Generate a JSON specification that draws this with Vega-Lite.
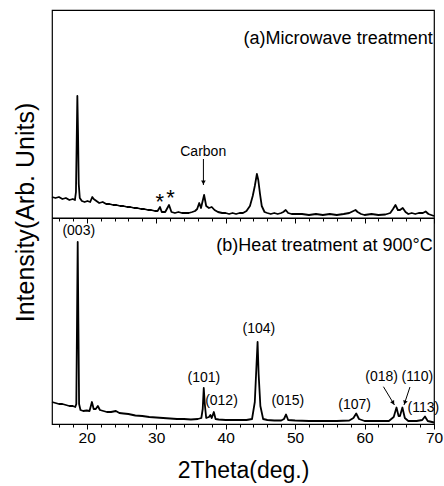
{
  "$schema": "https://vega.github.io/schema/vega-lite/v6.json",
  "width": 382,
  "height": 414,
  "autosize": "none",
  "padding": {"left": 52, "top": 10, "right": 10, "bottom": 62},
  "background": "white",
  "config": {
    "font": "Liberation Sans",
    "view": {"stroke": "#000", "strokeWidth": 1.2},
    "axis": {"grid": false, "labelColor": "#000", "titleColor": "#000", "tickColor": "#000", "domainColor": "#000", "titleFontWeight": "normal", "labelFont": "Liberation Sans", "titleFont": "Liberation Sans"},
    "axisY": {"labels": false, "ticks": false, "domain": false, "titleFontSize": 25, "titleX": -19, "titleY": 202, "titleBaseline": "alphabetic", "titleAlign": "center", "titleAngle": -90},
    "text": {"font": "Liberation Sans", "color": "#000"}
  },
  "resolve": {"scale": {"x": "shared", "y": "shared"}, "axis": {"x": "independent"}},
  "datasets": {
    "xrd": [
      {"sample": "a", "theta": 15.0, "v": 227}, {"sample": "a", "theta": 15.5, "v": 226}, {"sample": "a", "theta": 16.0, "v": 227}, {"sample": "a", "theta": 16.5, "v": 225}, {"sample": "a", "theta": 17.0, "v": 226}, {"sample": "a", "theta": 17.5, "v": 224}, {"sample": "a", "theta": 18.0, "v": 225}, {"sample": "a", "theta": 18.3, "v": 224}, {"sample": "a", "theta": 18.45, "v": 232}, {"sample": "a", "theta": 18.55, "v": 280}, {"sample": "a", "theta": 18.65, "v": 328}, {"sample": "a", "theta": 18.75, "v": 290}, {"sample": "a", "theta": 18.85, "v": 240}, {"sample": "a", "theta": 19.0, "v": 226}, {"sample": "a", "theta": 19.3, "v": 223}, {"sample": "a", "theta": 19.7, "v": 222}, {"sample": "a", "theta": 20.1, "v": 223}, {"sample": "a", "theta": 20.5, "v": 222}, {"sample": "a", "theta": 20.8, "v": 227}, {"sample": "a", "theta": 21.0, "v": 225}, {"sample": "a", "theta": 21.4, "v": 223}, {"sample": "a", "theta": 21.8, "v": 221}, {"sample": "a", "theta": 22.3, "v": 222}, {"sample": "a", "theta": 22.8, "v": 220}, {"sample": "a", "theta": 23.3, "v": 220}, {"sample": "a", "theta": 23.8, "v": 219}, {"sample": "a", "theta": 24.3, "v": 219}, {"sample": "a", "theta": 24.8, "v": 218}, {"sample": "a", "theta": 25.3, "v": 218}, {"sample": "a", "theta": 25.8, "v": 217}, {"sample": "a", "theta": 26.3, "v": 217}, {"sample": "a", "theta": 26.8, "v": 216}, {"sample": "a", "theta": 27.3, "v": 216}, {"sample": "a", "theta": 27.8, "v": 215}, {"sample": "a", "theta": 28.3, "v": 215}, {"sample": "a", "theta": 28.8, "v": 214}, {"sample": "a", "theta": 29.3, "v": 214}, {"sample": "a", "theta": 29.8, "v": 213}, {"sample": "a", "theta": 30.2, "v": 213}, {"sample": "a", "theta": 30.55, "v": 217}, {"sample": "a", "theta": 30.8, "v": 212}, {"sample": "a", "theta": 31.3, "v": 212}, {"sample": "a", "theta": 31.85, "v": 219}, {"sample": "a", "theta": 32.2, "v": 212}, {"sample": "a", "theta": 32.7, "v": 211}, {"sample": "a", "theta": 33.2, "v": 212}, {"sample": "a", "theta": 33.7, "v": 211}, {"sample": "a", "theta": 34.2, "v": 211}, {"sample": "a", "theta": 34.7, "v": 211}, {"sample": "a", "theta": 35.2, "v": 212}, {"sample": "a", "theta": 35.6, "v": 213}, {"sample": "a", "theta": 35.9, "v": 215}, {"sample": "a", "theta": 36.2, "v": 221}, {"sample": "a", "theta": 36.45, "v": 216}, {"sample": "a", "theta": 36.9, "v": 229}, {"sample": "a", "theta": 37.2, "v": 218}, {"sample": "a", "theta": 37.6, "v": 216}, {"sample": "a", "theta": 38.0, "v": 217}, {"sample": "a", "theta": 38.4, "v": 214}, {"sample": "a", "theta": 38.9, "v": 212}, {"sample": "a", "theta": 39.5, "v": 211}, {"sample": "a", "theta": 40.0, "v": 211}, {"sample": "a", "theta": 40.5, "v": 210}, {"sample": "a", "theta": 41.0, "v": 211}, {"sample": "a", "theta": 41.5, "v": 210}, {"sample": "a", "theta": 42.0, "v": 211}, {"sample": "a", "theta": 42.5, "v": 211}, {"sample": "a", "theta": 43.0, "v": 213}, {"sample": "a", "theta": 43.5, "v": 218}, {"sample": "a", "theta": 43.9, "v": 228}, {"sample": "a", "theta": 44.2, "v": 238}, {"sample": "a", "theta": 44.5, "v": 250}, {"sample": "a", "theta": 44.7, "v": 244}, {"sample": "a", "theta": 44.95, "v": 230}, {"sample": "a", "theta": 45.2, "v": 218}, {"sample": "a", "theta": 45.6, "v": 212}, {"sample": "a", "theta": 46.0, "v": 211}, {"sample": "a", "theta": 46.5, "v": 210}, {"sample": "a", "theta": 47.0, "v": 211}, {"sample": "a", "theta": 47.5, "v": 210}, {"sample": "a", "theta": 48.0, "v": 211}, {"sample": "a", "theta": 48.3, "v": 212}, {"sample": "a", "theta": 48.65, "v": 214}, {"sample": "a", "theta": 49.0, "v": 211}, {"sample": "a", "theta": 49.5, "v": 210}, {"sample": "a", "theta": 50.0, "v": 210}, {"sample": "a", "theta": 51.0, "v": 210}, {"sample": "a", "theta": 52.0, "v": 209}, {"sample": "a", "theta": 53.0, "v": 210}, {"sample": "a", "theta": 54.0, "v": 209}, {"sample": "a", "theta": 55.0, "v": 210}, {"sample": "a", "theta": 56.0, "v": 209}, {"sample": "a", "theta": 57.0, "v": 210}, {"sample": "a", "theta": 57.8, "v": 211}, {"sample": "a", "theta": 58.4, "v": 213}, {"sample": "a", "theta": 58.7, "v": 214}, {"sample": "a", "theta": 59.0, "v": 212}, {"sample": "a", "theta": 59.5, "v": 210}, {"sample": "a", "theta": 60.0, "v": 209}, {"sample": "a", "theta": 61.0, "v": 210}, {"sample": "a", "theta": 62.0, "v": 209}, {"sample": "a", "theta": 63.0, "v": 209.5}, {"sample": "a", "theta": 63.7, "v": 211}, {"sample": "a", "theta": 64.1, "v": 215}, {"sample": "a", "theta": 64.45, "v": 219}, {"sample": "a", "theta": 64.8, "v": 214}, {"sample": "a", "theta": 65.1, "v": 214}, {"sample": "a", "theta": 65.5, "v": 216}, {"sample": "a", "theta": 65.9, "v": 212}, {"sample": "a", "theta": 66.3, "v": 210}, {"sample": "a", "theta": 66.8, "v": 211}, {"sample": "a", "theta": 67.3, "v": 210}, {"sample": "a", "theta": 67.8, "v": 211}, {"sample": "a", "theta": 68.4, "v": 211}, {"sample": "a", "theta": 68.8, "v": 212.5}, {"sample": "a", "theta": 69.2, "v": 210}, {"sample": "a", "theta": 69.6, "v": 209}, {"sample": "a", "theta": 70.0, "v": 208},
      {"sample": "b", "theta": 15.0, "v": 22}, {"sample": "b", "theta": 15.5, "v": 21}, {"sample": "b", "theta": 16.0, "v": 20}, {"sample": "b", "theta": 16.5, "v": 20}, {"sample": "b", "theta": 17.0, "v": 19}, {"sample": "b", "theta": 17.5, "v": 18}, {"sample": "b", "theta": 18.0, "v": 18}, {"sample": "b", "theta": 18.35, "v": 17}, {"sample": "b", "theta": 18.5, "v": 20}, {"sample": "b", "theta": 18.6, "v": 100}, {"sample": "b", "theta": 18.7, "v": 182}, {"sample": "b", "theta": 18.8, "v": 100}, {"sample": "b", "theta": 18.9, "v": 20}, {"sample": "b", "theta": 19.1, "v": 14}, {"sample": "b", "theta": 19.5, "v": 13}, {"sample": "b", "theta": 20.0, "v": 13.5}, {"sample": "b", "theta": 20.4, "v": 13}, {"sample": "b", "theta": 20.75, "v": 22}, {"sample": "b", "theta": 21.0, "v": 15}, {"sample": "b", "theta": 21.3, "v": 15}, {"sample": "b", "theta": 21.6, "v": 18}, {"sample": "b", "theta": 21.9, "v": 14}, {"sample": "b", "theta": 22.4, "v": 13}, {"sample": "b", "theta": 22.9, "v": 12}, {"sample": "b", "theta": 23.5, "v": 12}, {"sample": "b", "theta": 24.2, "v": 13}, {"sample": "b", "theta": 24.7, "v": 11}, {"sample": "b", "theta": 25.3, "v": 10.5}, {"sample": "b", "theta": 26.0, "v": 10}, {"sample": "b", "theta": 27.0, "v": 8.5}, {"sample": "b", "theta": 28.0, "v": 8}, {"sample": "b", "theta": 29.0, "v": 7}, {"sample": "b", "theta": 30.0, "v": 6.5}, {"sample": "b", "theta": 31.0, "v": 6}, {"sample": "b", "theta": 32.0, "v": 5.5}, {"sample": "b", "theta": 33.0, "v": 5}, {"sample": "b", "theta": 34.0, "v": 5}, {"sample": "b", "theta": 35.0, "v": 4.5}, {"sample": "b", "theta": 36.0, "v": 5}, {"sample": "b", "theta": 36.5, "v": 6}, {"sample": "b", "theta": 36.7, "v": 15}, {"sample": "b", "theta": 36.85, "v": 36}, {"sample": "b", "theta": 37.0, "v": 20}, {"sample": "b", "theta": 37.2, "v": 6}, {"sample": "b", "theta": 37.6, "v": 7}, {"sample": "b", "theta": 37.8, "v": 9}, {"sample": "b", "theta": 38.0, "v": 6}, {"sample": "b", "theta": 38.3, "v": 12}, {"sample": "b", "theta": 38.55, "v": 5}, {"sample": "b", "theta": 39.0, "v": 4.5}, {"sample": "b", "theta": 40.0, "v": 4}, {"sample": "b", "theta": 41.0, "v": 4}, {"sample": "b", "theta": 42.0, "v": 4}, {"sample": "b", "theta": 43.0, "v": 4}, {"sample": "b", "theta": 43.8, "v": 5}, {"sample": "b", "theta": 44.2, "v": 22}, {"sample": "b", "theta": 44.45, "v": 60}, {"sample": "b", "theta": 44.6, "v": 82}, {"sample": "b", "theta": 44.75, "v": 50}, {"sample": "b", "theta": 45.0, "v": 18}, {"sample": "b", "theta": 45.4, "v": 5}, {"sample": "b", "theta": 46.0, "v": 4}, {"sample": "b", "theta": 47.0, "v": 3.5}, {"sample": "b", "theta": 48.0, "v": 3.5}, {"sample": "b", "theta": 48.4, "v": 5}, {"sample": "b", "theta": 48.7, "v": 9.5}, {"sample": "b", "theta": 49.0, "v": 4}, {"sample": "b", "theta": 50.0, "v": 3.5}, {"sample": "b", "theta": 52.0, "v": 3}, {"sample": "b", "theta": 54.0, "v": 3}, {"sample": "b", "theta": 56.0, "v": 3}, {"sample": "b", "theta": 57.8, "v": 3.5}, {"sample": "b", "theta": 58.4, "v": 6}, {"sample": "b", "theta": 58.8, "v": 10.5}, {"sample": "b", "theta": 59.2, "v": 5}, {"sample": "b", "theta": 60.0, "v": 3}, {"sample": "b", "theta": 62.0, "v": 3}, {"sample": "b", "theta": 63.5, "v": 3}, {"sample": "b", "theta": 64.2, "v": 7}, {"sample": "b", "theta": 64.6, "v": 16.5}, {"sample": "b", "theta": 64.9, "v": 8}, {"sample": "b", "theta": 65.1, "v": 8}, {"sample": "b", "theta": 65.45, "v": 16.5}, {"sample": "b", "theta": 65.8, "v": 6}, {"sample": "b", "theta": 66.3, "v": 3}, {"sample": "b", "theta": 67.5, "v": 3}, {"sample": "b", "theta": 68.3, "v": 4}, {"sample": "b", "theta": 68.7, "v": 7.5}, {"sample": "b", "theta": 69.1, "v": 3}, {"sample": "b", "theta": 70.0, "v": 1.5}
    ],
    "peaks": [
      {"label": "(003)", "theta": 18.85, "v": 193},
      {"label": "(101)", "theta": 36.86, "v": 45.7},
      {"label": "(012)", "theta": 39.4, "v": 23},
      {"label": "(104)", "theta": 44.78, "v": 94.7},
      {"label": "(015)", "theta": 48.96, "v": 23},
      {"label": "(107)", "theta": 58.57, "v": 19},
      {"label": "(018)", "theta": 62.46, "v": 47.3},
      {"label": "(110)", "theta": 67.6, "v": 47.3},
      {"label": "(113)", "theta": 68.47, "v": 15.7}
    ],
    "stars": [
      {"label": "*", "theta": 30.52, "v": 227},
      {"label": "*", "theta": 32.06, "v": 231}
    ],
    "panels": [
      {"label": "(a)Microwave treatment", "theta": 69.81, "v": 385},
      {"label": "(b)Heat treatment at 900°C", "theta": 69.81, "v": 178}
    ],
    "arrows": [
      {"id": "carbon", "theta": 36.8, "v": 265, "theta2": 36.8, "v2": 239},
      {"id": "018", "theta": 62.72, "v": 37.3, "theta2": 64.31, "v2": 19},
      {"id": "110", "theta": 66.54, "v": 37, "theta2": 65.68, "v2": 19}
    ],
    "heads": [
      {"id": "carbon", "theta": 36.8, "v": 241.5},
      {"id": "018", "theta": 64.12, "v": 21.1},
      {"id": "110", "theta": 65.8, "v": 21.4}
    ],
    "divider": [{"start": 15, "end": 70, "v": 206}]
  },
  "layer": [
    {
      "data": {"name": "xrd"},
      "mark": {"type": "line", "color": "#000", "strokeWidth": 1.8, "strokeJoin": "round"},
      "encoding": {
        "x": {"field": "theta", "type": "quantitative", "scale": {"domain": [15, 70], "nice": false, "zero": false},
          "axis": {"orient": "bottom", "title": "2Theta(deg.)", "titleFontSize": 23, "titleY": 35, "titleBaseline": "top", "values": [16, 18, 20, 22, 24, 26, 28, 30, 32, 34, 36, 38, 40, 42, 44, 46, 48, 50, 52, 54, 56, 58, 60, 62, 64, 66, 68, 70], "labelExpr": "datum.value % 10 === 0 ? datum.value : ''", "labelFontSize": 15.5, "labelPadding": 1, "tickSize": {"condition": {"test": "datum.value % 10 === 0", "value": 5}, "value": 3}, "domain": true, "labelOverlap": false, "labelFlush": false}},
        "y": {"field": "v", "type": "quantitative", "scale": {"domain": [0, 414], "nice": false, "zero": false}, "title": "Intensity(Arb. Units)"},
        "detail": {"field": "sample"}
      }
    },
    {
      "data": {"name": "divider"},
      "mark": {"type": "rule", "color": "#000", "strokeWidth": 1.2},
      "encoding": {
        "x": {"field": "start", "type": "quantitative",
          "axis": {"orient": "bottom", "offset": -206, "title": null, "labels": false, "values": [16, 18, 20, 22, 24, 26, 28, 30, 32, 34, 36, 38, 40, 42, 44, 46, 48, 50, 52, 54, 56, 58, 60, 62, 64, 66, 68, 70], "tickSize": {"condition": {"test": "datum.value % 10 === 0", "value": 5}, "value": 3}, "domain": true}},
        "x2": {"field": "end"},
        "y": {"field": "v", "type": "quantitative", "title": "Intensity(Arb. Units)"}
      }
    },
    {
      "data": {"name": "peaks"},
      "mark": {"type": "text", "fontSize": 14, "baseline": "middle", "align": "center"},
      "encoding": {
        "x": {"field": "theta", "type": "quantitative", "axis": null},
        "y": {"field": "v", "type": "quantitative", "title": "Intensity(Arb. Units)"},
        "text": {"field": "label"}
      }
    },
    {
      "data": {"name": "stars"},
      "mark": {"type": "text", "fontSize": 22, "baseline": "alphabetic", "align": "center", "dy": 12},
      "encoding": {
        "x": {"field": "theta", "type": "quantitative", "axis": null},
        "y": {"field": "v", "type": "quantitative", "title": "Intensity(Arb. Units)"},
        "text": {"field": "label"}
      }
    },
    {
      "data": {"values": [{"label": "Carbon", "theta": 36.77, "v": 272}]},
      "mark": {"type": "text", "fontSize": 14, "baseline": "middle", "align": "center"},
      "encoding": {
        "x": {"field": "theta", "type": "quantitative", "axis": null},
        "y": {"field": "v", "type": "quantitative", "title": "Intensity(Arb. Units)"},
        "text": {"field": "label"}
      }
    },
    {
      "data": {"name": "panels"},
      "mark": {"type": "text", "fontSize": 18, "baseline": "middle", "align": "right"},
      "encoding": {
        "x": {"field": "theta", "type": "quantitative", "axis": null},
        "y": {"field": "v", "type": "quantitative", "title": "Intensity(Arb. Units)"},
        "text": {"field": "label"}
      }
    },
    {
      "data": {"name": "arrows"},
      "mark": {"type": "rule", "color": "#000", "strokeWidth": 1},
      "encoding": {
        "x": {"field": "theta", "type": "quantitative", "axis": null},
        "x2": {"field": "theta2"},
        "y": {"field": "v", "type": "quantitative", "title": "Intensity(Arb. Units)"},
        "y2": {"field": "v2"}
      }
    },
    {
      "data": {"name": "heads"},
      "transform": [{"filter": "datum.id === 'carbon'"}],
      "mark": {"type": "point", "shape": "triangle-down", "filled": true, "color": "#000", "size": 22, "opacity": 1},
      "encoding": {
        "x": {"field": "theta", "type": "quantitative", "axis": null},
        "y": {"field": "v", "type": "quantitative", "title": "Intensity(Arb. Units)"}
      }
    },
    {
      "data": {"name": "heads"},
      "transform": [{"filter": "datum.id === '018'"}],
      "mark": {"type": "point", "shape": "triangle-down", "filled": true, "color": "#000", "size": 22, "opacity": 1, "angle": -31},
      "encoding": {
        "x": {"field": "theta", "type": "quantitative", "axis": null},
        "y": {"field": "v", "type": "quantitative", "title": "Intensity(Arb. Units)"}
      }
    },
    {
      "data": {"name": "heads"},
      "transform": [{"filter": "datum.id === '110'"}],
      "mark": {"type": "point", "shape": "triangle-down", "filled": true, "color": "#000", "size": 22, "opacity": 1, "angle": 18},
      "encoding": {
        "x": {"field": "theta", "type": "quantitative", "axis": null},
        "y": {"field": "v", "type": "quantitative", "title": "Intensity(Arb. Units)"}
      }
    }
  ]
}
